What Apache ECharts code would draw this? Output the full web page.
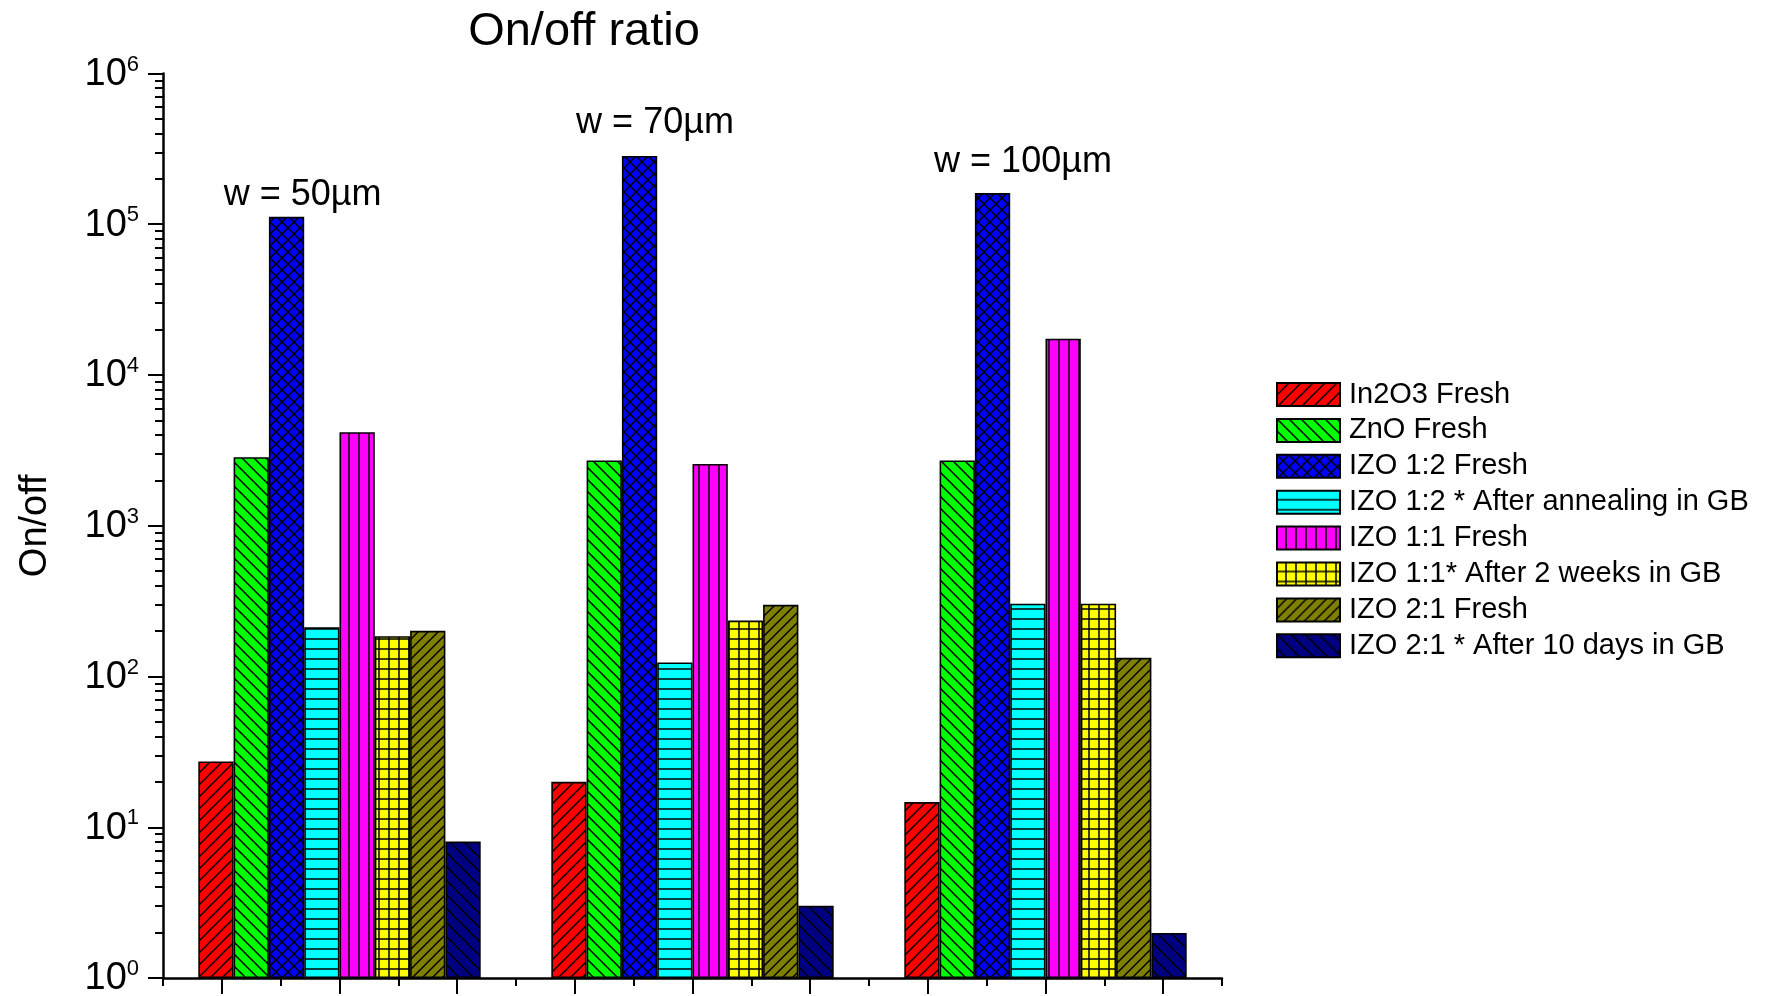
<!DOCTYPE html>
<html><head><meta charset="utf-8">
<script src="https://cdn.jsdelivr.net/npm/echarts@6/dist/echarts.min.js"></script>
<style>html,body{margin:0;padding:0;background:#fff}#c{width:1767px;height:996px}</style>
</head><body><div id="c"></div>
<script>
// ---- data ----
const groups = ['w = 50µm', 'w = 70µm', 'w = 100µm'];
const seriesNames = ['In2O3 Fresh', 'ZnO Fresh', 'IZO 1:2 Fresh', 'IZO 1:2 * After annealing in GB',
  'IZO 1:1 Fresh', 'IZO 1:1* After 2 weeks in GB', 'IZO 2:1 Fresh', 'IZO 2:1 * After 10 days in GB'];
const in2o3Fresh   = [27.3, 20.0, 14.7];
const znoFresh     = [2850, 2710, 2710];
const izo12Fresh   = [112000, 284000, 161000];
const izo12Anneal  = [212, 124, 304];
const izo11Fresh   = [4170, 2570, 17400];
const izo11Weeks   = [185, 235, 304];
const izo21Fresh   = [201, 299, 133];
const izo21Days    = [8.04, 3.01, 1.99];
const yMin = 1, yMax = 1e6;
const xTickSlots = ['s1','s2','s3','s4','s5','s6','s7','s8','s9'];
const yMinorTicks = [];
for (let k = 0; k < 6; k++) for (let m = 2; m <= 9; m++) yMinorTicks.push(m * Math.pow(10, k));

// ---- styles ----
const FONT = '"Liberation Sans", Arial, Helvetica, sans-serif';
function pattern(bg, kind, s) {
  const c = document.createElement('canvas'); c.width = s; c.height = s;
  const g = c.getContext('2d');
  g.fillStyle = bg; g.fillRect(0, 0, s, s);
  g.strokeStyle = '#000'; g.lineWidth = 1.5;
  const line = (x1, y1, x2, y2) => { g.beginPath(); g.moveTo(x1, y1); g.lineTo(x2, y2); g.stroke(); };
  if (kind === '/' || kind === 'x') { line(-1, s + 1, s + 1, -1); line(-2, 2, 2, -2); line(s - 2, s + 2, s + 2, s - 2); }
  if (kind === '\\' || kind === 'x') { line(-1, -1, s + 1, s + 1); line(s - 2, -2, s + 2, 2); line(-2, s - 2, 2, s + 2); }
  if (kind === '-' || kind === '+') line(0, s - 1, s, s - 1);
  if (kind === '|' || kind === '+') line(s - 1, 0, s - 1, s);
  return { image: c, repeat: 'repeat' };
}
const fills = [
  pattern('#FF0000', '/', 12),
  pattern('#00FF00', '\\', 12),
  pattern('#0000FF', 'x', 12),
  pattern('#00FFFF', '-', 10),
  pattern('#FF00FF', '|', 10),
  pattern('#FFFF00', '+', 10),
  pattern('#808000', '/', 10),
  pattern('#000080', '\\', 14)
];
const seriesData = [in2o3Fresh, znoFresh, izo12Fresh, izo12Anneal, izo11Fresh, izo11Weeks, izo21Fresh, izo21Days];

const chart = echarts.init(document.getElementById('c'), null, { renderer: 'canvas' });
const tickStyle = { color: '#000', width: 2 };
chart.setOption({
  animation: false,
  backgroundColor: '#fff',
  textStyle: { fontFamily: FONT, color: '#000' },
  title: {
    text: 'On/off ratio', left: 584, top: 9, textAlign: 'center', padding: 0,
    textStyle: { fontSize: 47, fontWeight: 'normal', color: '#000', fontFamily: FONT }
  },
  grid: { left: 163, top: 73.5, width: 1059, height: 904.5, containLabel: false, outerBoundsMode: 'none' },
  legend: {
    orient: 'vertical', left: 1276, top: 380, padding: 0,
    itemWidth: 63, itemHeight: 23, itemGap: 6.9, icon: 'rect',
    textStyle: { fontSize: 29, color: '#000', fontFamily: FONT, padding: [0, 0, 0, 4] },
    data: seriesNames
  },
  xAxis: [
    { type: 'category', data: groups, position: 'bottom',
      axisLine: { onZero: false, lineStyle: { color: '#000', width: 2.5 } },
      axisTick: { show: false }, axisLabel: { show: false }, splitLine: { show: false } },
    { type: 'category', data: xTickSlots, position: 'bottom', boundaryGap: true,
      axisLine: { show: false, onZero: false },
      axisTick: { show: true, interval: 0, length: 8, lineStyle: tickStyle },
      axisLabel: { show: false, interval: 0 }, splitLine: { show: false } },
    { type: 'category', data: xTickSlots, position: 'bottom', boundaryGap: true,
      axisLine: { show: false, onZero: false },
      axisTick: { show: true, interval: 0, alignWithLabel: true, length: 16, lineStyle: tickStyle },
      axisLabel: { show: false, interval: 0 }, splitLine: { show: false } }
  ],
  yAxis: [
    { type: 'log', logBase: 10, min: yMin, max: yMax, splitNumber: 6, position: 'left',
      name: 'On/off', nameLocation: 'middle', nameGap: 108, nameRotate: 90,
      nameTextStyle: { fontSize: 38, color: '#000', fontFamily: FONT },
      axisLine: { show: true, onZero: false, lineStyle: { color: '#000', width: 2.5 } },
      axisTick: { show: true, length: 15, lineStyle: tickStyle },
      splitLine: { show: false },
      axisLabel: {
        margin: 24, color: '#000',
        formatter: v => '{b|10}{s|' + Math.round(Math.log10(v)) + '}',
        rich: {
          b: { fontSize: 38, lineHeight: 40, fontFamily: FONT, color: '#000', verticalAlign: 'bottom' },
          s: { fontSize: 22, lineHeight: 20, fontFamily: FONT, color: '#000', verticalAlign: 'top' }
        }
      } },
    { type: 'log', logBase: 10, min: yMin, max: yMax, position: 'left',
      axisLine: { show: false, onZero: false },
      axisTick: { show: true, length: 8, lineStyle: tickStyle, customValues: yMinorTicks },
      axisLabel: { show: false }, splitLine: { show: false } }
  ],
  series: seriesNames.map((name, i) => ({
    name, type: 'bar', xAxisIndex: 0, yAxisIndex: 0,
    data: seriesData[i],
    barGap: '0%', barCategoryGap: '20%',
    itemStyle: { color: fills[i], borderColor: '#000', borderWidth: 1.6 },
    emphasis: { disabled: true }
  })),
  graphic: [
    { type: 'text', x: 302.6, y: 195, style: { text: groups[0], font: '36px ' + FONT, fill: '#000', align: 'center', verticalAlign: 'middle' } },
    { type: 'text', x: 655, y: 123, style: { text: groups[1], font: '36px ' + FONT, fill: '#000', align: 'center', verticalAlign: 'middle' } },
    { type: 'text', x: 1023, y: 162, style: { text: groups[2], font: '36px ' + FONT, fill: '#000', align: 'center', verticalAlign: 'middle' } }
  ]
});
</script></body></html>
